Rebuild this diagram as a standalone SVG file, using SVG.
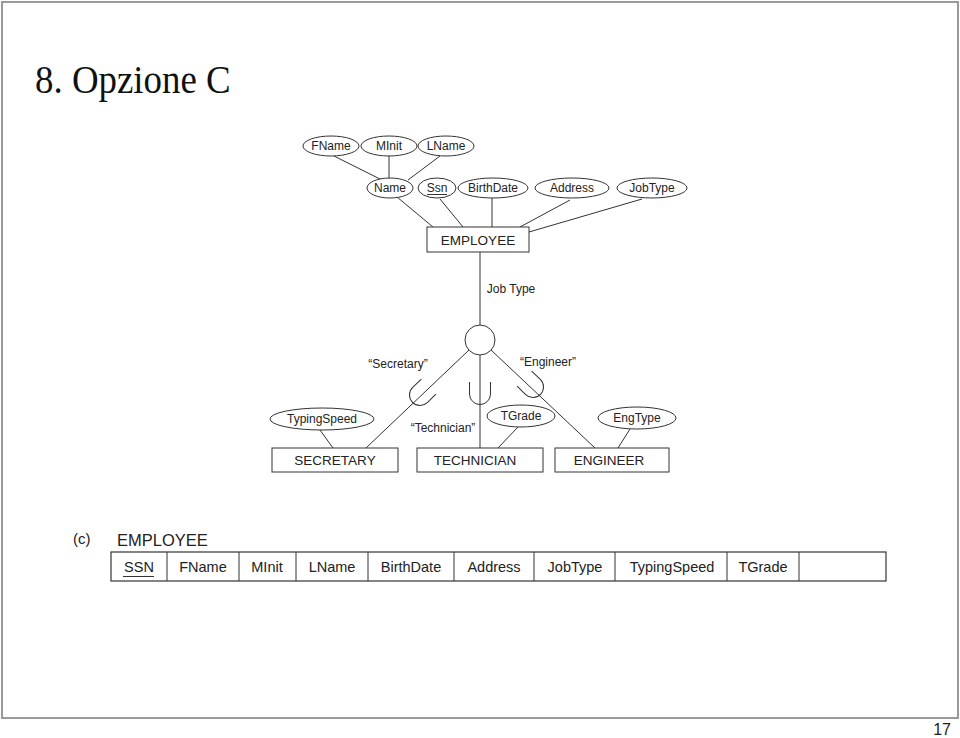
<svg xmlns="http://www.w3.org/2000/svg" width="960" height="738" viewBox="0 0 960 738">
<style>
  .t{font-family:"Liberation Sans",Arial,sans-serif;fill:#222;text-anchor:middle;stroke:none}
  .a{font-size:12px}
  .e{font-size:13.5px}
  .tb{font-size:14.5px}
  .shape{fill:#fff;stroke:#333;stroke-width:1}
  .ln{fill:none;stroke:#333;stroke-width:1}
</style>
<defs>
  <path id="sub" d="M-10.5,-12 V0 A10.5,10.5 0 0 0 10.5,0 V-12" fill="none" stroke="#333" stroke-width="1"/>
</defs>
<rect x="0" y="0" width="960" height="738" fill="#fff"/>
<rect x="2" y="2" width="956" height="716" fill="none" stroke="#9a9a9a" stroke-width="2"/>
<text transform="translate(35,93) scale(0.9,1)" style="font-family:'Liberation Serif','Times New Roman',serif;font-size:41px;fill:#111">8. Opzione C</text>
<text x="951" y="735" class="t" style="font-size:16px;text-anchor:end">17</text>

<g id="connectors">
  <g class="ln">
    <line x1="334" y1="156" x2="382" y2="180"/>
    <line x1="389" y1="156" x2="389" y2="178"/>
    <line x1="440" y1="156" x2="408" y2="180"/>
    <line x1="397" y1="197" x2="433" y2="227"/>
    <line x1="440" y1="199" x2="463" y2="227"/>
    <line x1="492" y1="198" x2="492" y2="227"/>
    <line x1="570" y1="200" x2="520" y2="227"/>
    <line x1="642" y1="199" x2="529" y2="232"/>
    <line x1="480" y1="252" x2="480" y2="325"/>
    <line x1="469" y1="350" x2="366" y2="448"/>
    <line x1="480" y1="355" x2="480" y2="448"/>
    <line x1="491" y1="350" x2="595" y2="448"/>
    <line x1="320" y1="430" x2="333" y2="448"/>
    <line x1="518" y1="427" x2="498" y2="448"/>
    <line x1="630" y1="429" x2="618" y2="448"/>
  </g>
  <use href="#sub" transform="translate(420,395) rotate(46)"/>
  <use href="#sub" transform="translate(480,394)"/>
  <use href="#sub" transform="translate(533,387) rotate(-46)"/>
  <text class="t a" x="511" y="293">Job Type</text>
  <text class="t a" x="398" y="368">“Secretary”</text>
  <text class="t a" x="548" y="366">“Engineer”</text>
  <text class="t a" x="443" y="432">“Technician”</text>
</g>

<g id="FName"><ellipse class="shape" cx="331" cy="146" rx="28" ry="10"/><text class="t a" x="331" y="150">FName</text></g>
<g id="MInit"><ellipse class="shape" cx="389" cy="146" rx="28" ry="10"/><text class="t a" x="389" y="150">MInit</text></g>
<g id="LName"><ellipse class="shape" cx="446" cy="146" rx="28" ry="10"/><text class="t a" x="446" y="150">LName</text></g>
<g id="Name"><ellipse class="shape" cx="390" cy="188" rx="23" ry="10"/><text class="t a" x="390" y="192">Name</text></g>
<g id="Ssn"><ellipse class="shape" cx="437" cy="188" rx="19" ry="10"/><text class="t a" x="437" y="192">Ssn</text><line class="ln" x1="427" y1="194.5" x2="447" y2="194.5"/></g>
<g id="BirthDate"><ellipse class="shape" cx="493" cy="188" rx="35" ry="10"/><text class="t a" x="493" y="192">BirthDate</text></g>
<g id="Address"><ellipse class="shape" cx="572" cy="188" rx="37" ry="10"/><text class="t a" x="572" y="192">Address</text></g>
<g id="JobType"><ellipse class="shape" cx="652" cy="188" rx="35" ry="10"/><text class="t a" x="652" y="192">JobType</text></g>

<g id="EMPLOYEE"><rect class="shape" x="427" y="227" width="102" height="25"/><text class="t e" x="478" y="245">EMPLOYEE</text></g>
<g id="disjoint"><circle class="shape" cx="480" cy="340" r="15"/></g>

<g id="TypingSpeed"><ellipse class="shape" cx="322" cy="419" rx="52" ry="11"/><text class="t a" x="322" y="423">TypingSpeed</text></g>
<g id="TGrade"><ellipse class="shape" cx="521" cy="416" rx="34" ry="11"/><text class="t a" x="521" y="420">TGrade</text></g>
<g id="EngType"><ellipse class="shape" cx="637" cy="418" rx="39" ry="11"/><text class="t a" x="637" y="422">EngType</text></g>

<g id="SECRETARY"><rect class="shape" x="272" y="448" width="126" height="24"/><text class="t e" x="335" y="465">SECRETARY</text></g>
<g id="TECHNICIAN"><rect class="shape" x="417" y="448" width="126" height="24"/><text class="t e" x="475" y="465">TECHNICIAN</text></g>
<g id="ENGINEER"><rect class="shape" x="555" y="448" width="114" height="24"/><text class="t e" x="609" y="465">ENGINEER</text></g>

<g id="table">
  <text class="t" x="73" y="544" style="font-size:15px;text-anchor:start">(c)</text>
  <text class="t" x="117" y="546" style="font-size:16.5px;text-anchor:start">EMPLOYEE</text>
  <rect x="111" y="552" width="775" height="29" fill="#fff" stroke="#333" stroke-width="1.2"/>
  <g class="ln">
    <line x1="167" y1="552" x2="167" y2="581"/>
    <line x1="239" y1="552" x2="239" y2="581"/>
    <line x1="296" y1="552" x2="296" y2="581"/>
    <line x1="368" y1="552" x2="368" y2="581"/>
    <line x1="454" y1="552" x2="454" y2="581"/>
    <line x1="534" y1="552" x2="534" y2="581"/>
    <line x1="615" y1="552" x2="615" y2="581"/>
    <line x1="727" y1="552" x2="727" y2="581"/>
    <line x1="799" y1="552" x2="799" y2="581"/>
    <line x1="123" y1="576.5" x2="154" y2="576.5"/>
  </g>
  <text class="t tb" x="139" y="572">SSN</text>
  <text class="t tb" x="203" y="572">FName</text>
  <text class="t tb" x="267" y="572">MInit</text>
  <text class="t tb" x="332" y="572">LName</text>
  <text class="t tb" x="411" y="572">BirthDate</text>
  <text class="t tb" x="494" y="572">Address</text>
  <text class="t tb" x="575" y="572">JobType</text>
  <text class="t tb" x="672" y="572">TypingSpeed</text>
  <text class="t tb" x="763" y="572">TGrade</text>
</g>
</svg>
